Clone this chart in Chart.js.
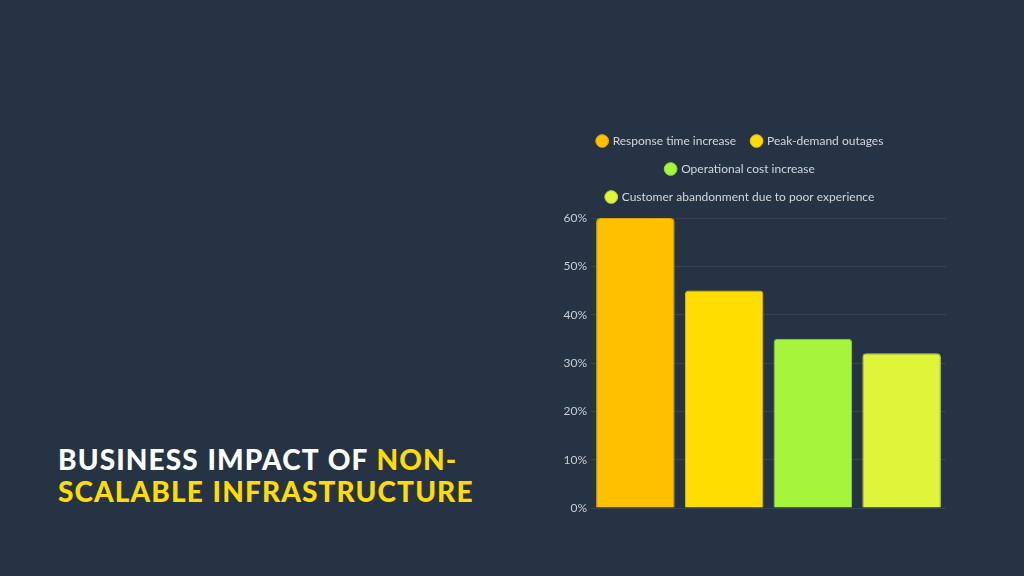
<!DOCTYPE html>
<html>
<head>
<meta charset="utf-8">
<script src="https://cdn.jsdelivr.net/npm/chart.js@4"></script>
<style>
  html, body { margin: 0; padding: 0; }
  body { width: 1024px; height: 576px; background: #253345; position: relative; overflow: hidden; font-family: Lato, "Open Sans", sans-serif; }
  #title { position: absolute; left: 58px; top: 443px; font-family: Lato, sans-serif; font-weight: 900; font-size: 28px; line-height: 32px; color: #ffffff; letter-spacing: 1.1px; word-spacing: 1px; }
  #title span { color: #ffdd00; }
  #wrap { position: absolute; left: 535px; top: 119px; width: 420px; height: 405px; }
</style>
</head>
<body>
<div id="title">BUSINESS IMPACT OF <span>NON-<br>SCALABLE INFRASTRUCTURE</span></div>
<div id="wrap"><canvas id="chart"></canvas></div>
<script>
const categories = [''];
const seriesNames = ['Response time increase', 'Peak-demand outages', 'Operational cost increase', 'Customer abandonment due to poor experience'];
const seriesValues = [60, 45, 35, 32];
const seriesColors = ['#ffc000', '#ffdd00', '#a6f53c', '#e0f53a'];
const borderColors = ['#e0a800', '#e6c400', '#90d830', '#c6da30'];
const yTicks = [0, 10, 20, 30, 40, 50, 60];

// a little extra room under the legend
const legendSpacer = {
    id: 'legendSpacer',
    beforeInit(chart) {
        const fit = chart.legend.fit;
        chart.legend.fit = function () {
            fit.call(this);
            this.height += 5;
        };
    }
};

const ctx = document.getElementById('chart').getContext('2d');

new Chart(ctx, {
    type: 'bar',
    data: {
        labels: categories,
        datasets: seriesNames.map((name, i) => ({
            label: name,
            data: [seriesValues[i]],
            backgroundColor: seriesColors[i],
            borderColor: borderColors[i],
            borderWidth: 1,
            borderRadius: 4,
            categoryPercentage: 1,
            barPercentage: 0.885
        }))
    },
    options: {
        responsive: true,
        maintainAspectRatio: false,
        animation: false,
        layout: { padding: { left: 0, right: 9, top: 0, bottom: 16 } },
        plugins: {
            legend: {
                position: 'top',
                labels: {
                    color: '#d3d7dd',
                    font: { family: 'Lato', size: 12 },
                    usePointStyle: true,
                    pointStyle: 'circle',
                    boxWidth: 9,
                    boxHeight: 9,
                    padding: 16
                }
            },
            tooltip: { enabled: false }
        },
        scales: {
            x: {
                display: false
            },
            y: {
                min: 0,
                max: yTicks[yTicks.length - 1],
                afterBuildTicks: axis => { axis.ticks = yTicks.map(v => ({ value: v })); },
                afterFit: axis => { axis.width = 56; },
                ticks: {
                    color: '#c9cdd3',
                    font: { family: 'Lato', size: 12 },
                    padding: 4,
                    callback: v => v + '%'
                },
                grid: { color: 'rgba(255,255,255,0.08)', drawTicks: false },
                border: { display: false }
            }
        }
    },
    plugins: [legendSpacer]
});
</script>
</body>
</html>
